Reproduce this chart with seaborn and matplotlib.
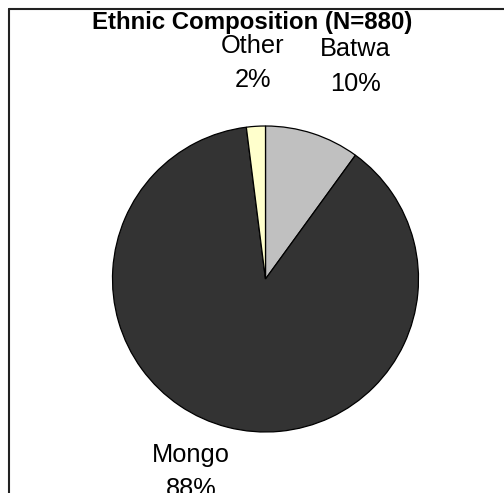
import matplotlib
matplotlib.use("Agg")
import matplotlib.pyplot as plt
from matplotlib.lines import Line2D
import seaborn as sns

# Ethnic composition of the sample
groups = ["Batwa", "Mongo", "Other"]
shares = [10, 88, 2]
slice_colors = ["#C0C0C0", "#333333", "#FFFFCC"]
title = "Ethnic Composition (N=880)"

sns.set_theme(style="white")
plt.rcParams["font.family"] = ["Liberation Sans", "DejaVu Sans"]

W, H, DPI = 504, 493, 100
fig = plt.figure(figsize=(W / DPI, H / DPI), dpi=DPI)
fig.patch.set_facecolor("white")

# pie geometry in pixels
cx, cy, r = 265.5, 279.0, 153.0
span = 1.2
ax = fig.add_axes([(cx - span * r) / W, (H - cy - span * r) / H,
                   2 * span * r / W, 2 * span * r / H])
ax.pie(shares, colors=slice_colors, startangle=90, counterclock=False,
       wedgeprops=dict(edgecolor="black", linewidth=0.9))
ax.set_xlim(-span, span)
ax.set_ylim(-span, span)
ax.set_aspect("equal")
ax.axis("off")

# label positions in pixels (centre of the two-line block)
label_px = {"Batwa": (355, 66.5), "Mongo": (191, 472), "Other": (253, 63)}
for g, v in zip(groups, shares):
    px, py = label_px[g]
    fig.text(px / W, 1 - py / H, f"{g}\n{v}%", ha="center", va="center",
             fontsize=18.3, linespacing=1.55, color="black")

fig.text(252.5 / W, 1 - 22 / H, title, ha="center", va="center",
         fontsize=17.3, fontweight="bold", color="black")

# chart frame (left and top edges)
fig.add_artist(Line2D([8.5 / W, 8.5 / W], [0, 1 - 8.5 / H],
                      transform=fig.transFigure, color="#222222", linewidth=1.5))
fig.add_artist(Line2D([8.5 / W, 1], [1 - 8.5 / H, 1 - 8.5 / H],
                      transform=fig.transFigure, color="#222222", linewidth=1.5))

fig.savefig("out.png", dpi=DPI)
